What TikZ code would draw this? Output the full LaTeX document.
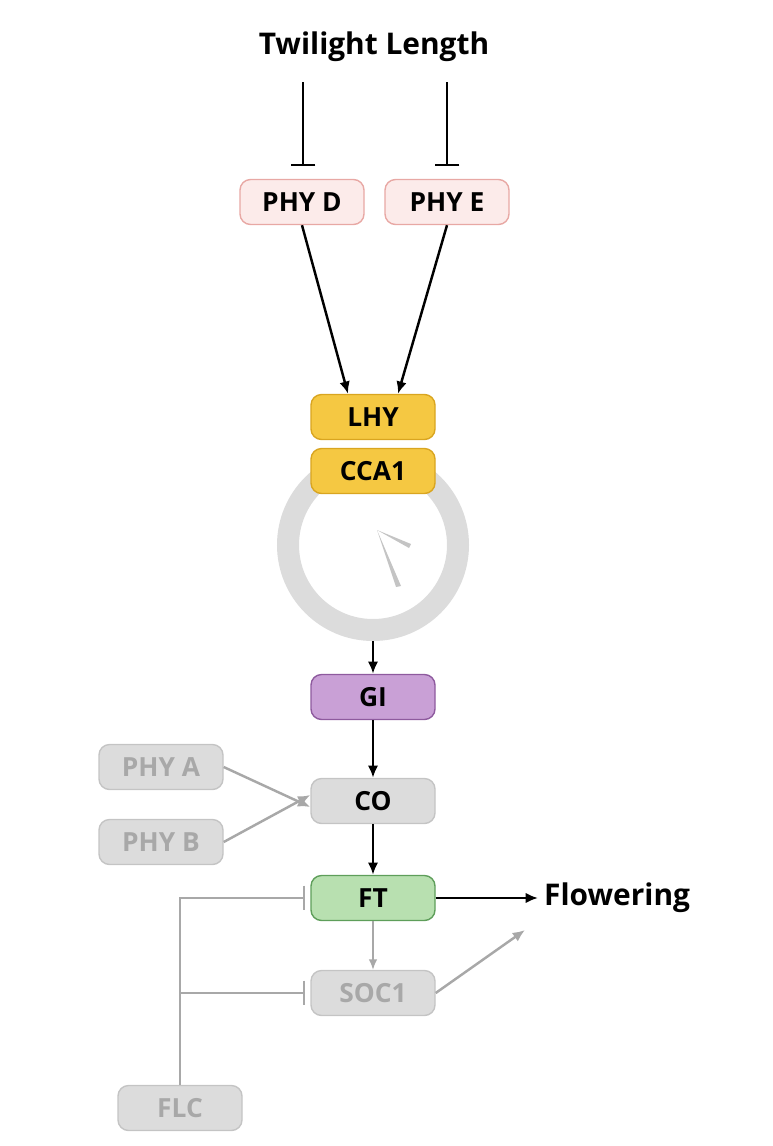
\documentclass[tikz,border=0pt]{standalone}
\usepackage{fontspec}
\setmainfont{Open Sans}
\usetikzlibrary{arrows.meta}
\definecolor{pinkf}{HTML}{FCEBEA}\definecolor{pinkd}{HTML}{E8A8A4}
\definecolor{yelf}{HTML}{F5C842}\definecolor{yeld}{HTML}{D9A520}
\definecolor{purf}{HTML}{C9A0D6}\definecolor{purd}{HTML}{8E5A9E}
\definecolor{grf}{HTML}{DCDCDC}\definecolor{grd}{HTML}{C4C4C4}
\definecolor{gnf}{HTML}{B8E0B0}\definecolor{gnd}{HTML}{5E9E5A}
\definecolor{gtxt}{HTML}{A8A8A8}\definecolor{gline}{HTML}{A8A8A8}
\tikzset{
 box/.style={rounded corners=6pt,minimum width=124*0.02cm,minimum height=45*0.02cm,inner sep=0pt,font=\fontsize{15}{17}\selectfont\bfseries,line width=0.8pt},
 pink/.style={box,fill=pinkf,draw=pinkd},
 yel/.style={box,fill=yelf,draw=yeld},
 pur/.style={box,fill=purf,draw=purd},
 gray/.style={box,fill=grf,draw=grd},
 grayt/.style={gray,text=gtxt},
 grn/.style={box,fill=gnf,draw=gnd},
 act/.style={line width=1.4pt,-{Latex[length=7pt,width=6pt]}},
 gact/.style={act,draw=gline},
 inh/.style={line width=1.4pt,-{Bar[width=14pt]}},
 ginh/.style={inh,draw=gline,shorten >=3pt}
}
\begin{document}
\begin{tikzpicture}[x=0.02cm,y=-0.02cm]
\useasboundingbox (0,0) rectangle (772,1146);
\node[font=\fontsize{17}{19}\selectfont\bfseries] (tw) at (374,47) {Twilight Length};
\node[pink] (phyd) at (302,202) {PHY D};
\node[pink] (phye) at (447,202) {PHY E};
\coordinate (t1) at (303,82); \coordinate (t2) at (447,82);
\draw[inh] (t1) -- (303,166);
\draw[inh] (t2) -- (447,166);
% clock
\draw[line width=22*0.02cm,draw=grf] (373,545) circle (85);
\coordinate (cb) at (373,641);
\fill[grd] (377,530) -- (401,586) -- (396,587) -- cycle;
\fill[grd] (377,530) -- (411,544) -- (409,548) -- cycle;
\node[yel] (lhy) at (373,417) {LHY};
\node[yel] (cca) at (373,471) {CCA1};
\draw[act] (phyd.south) -- ([xshift=-25*0.02cm]lhy.north);
\draw[act] (phye.south) -- ([xshift=25*0.02cm]lhy.north);
\node[pur] (gi) at (373,697) {GI};
\draw[act] (cb) -- (gi.north);
\node[gray] (co) at (373,801) {CO};
\draw[act] (gi) -- (co);
\node[grayt] (phya) at (161,767) {PHY A};
\node[grayt] (phyb) at (161,842) {PHY B};
\draw[gact] (phya.east) -- ([yshift=-6*0.02cm]co.west);
\draw[gact] (phyb.east) -- ([yshift=6*0.02cm]co.west);
\node[grn] (ft) at (373,898) {FT};
\draw[act] (co) -- (ft);
\node[grayt] (soc) at (373,993) {SOC1};
\draw[line width=1pt,-{Latex[length=6pt,width=5pt]},draw=gline] (ft) -- (soc);
\node[anchor=west,font=\fontsize{17}{19}\selectfont\bfseries] (fl) at (538,898) {Flowering};
\draw[act] (ft.east) -- (fl.west);
\coordinate (fla) at (525,930);
\draw[gact] (soc.east) -- (fla);
\node[grayt] (flc) at (180,1108) {FLC};
\coordinate (fc) at (180,898);
\coordinate (fs) at (180,993);
\draw[ginh] (flc.north) -- (fc) -- (ft.west);
\draw[ginh] (fs) -- (soc.west);
\end{tikzpicture}
\end{document}
